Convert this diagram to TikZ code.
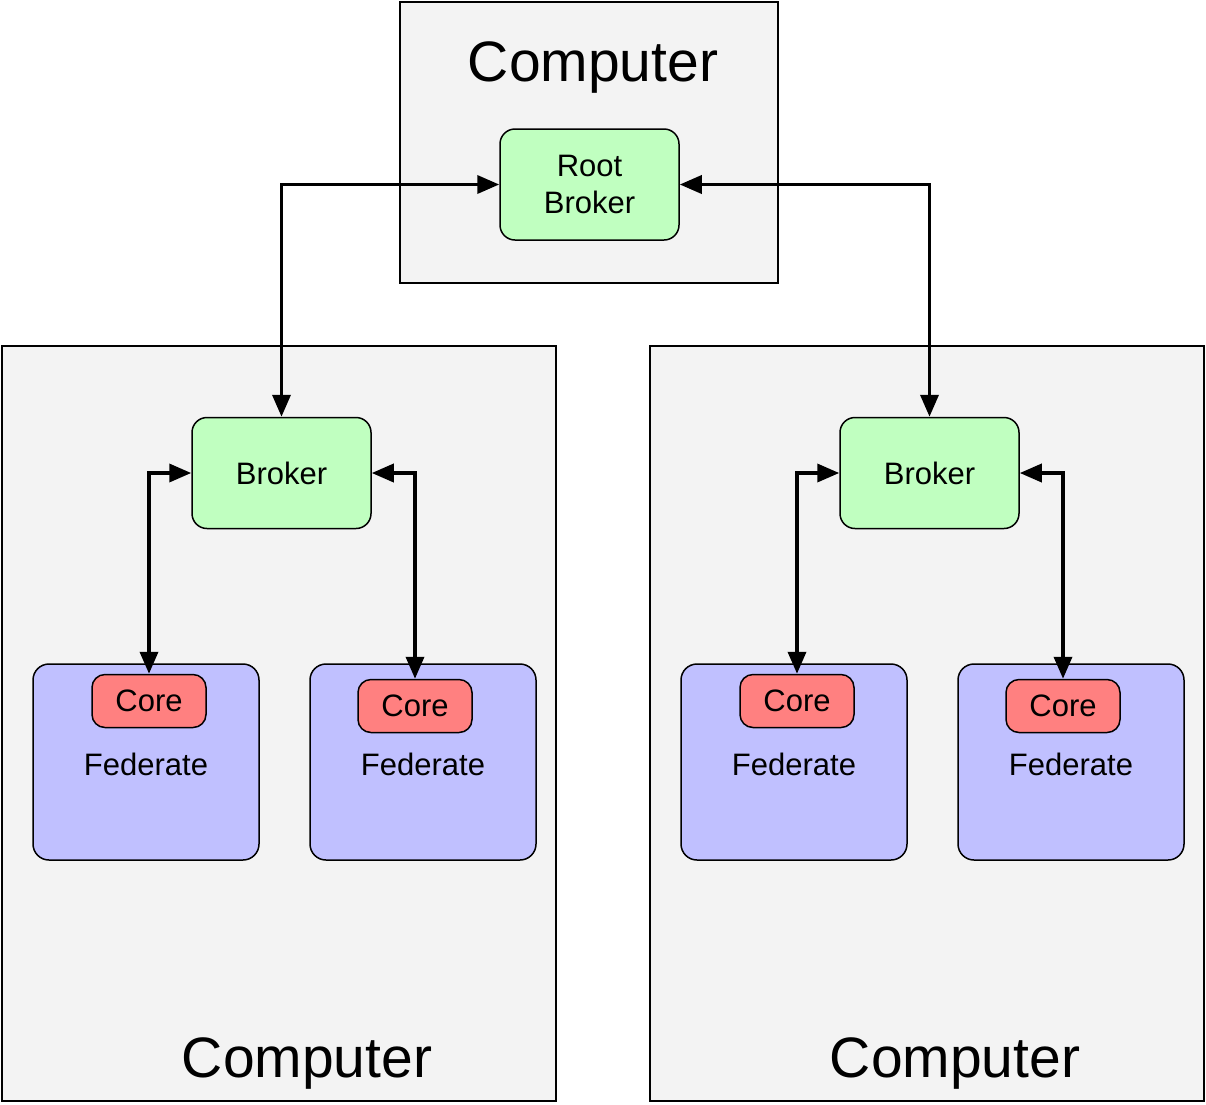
\documentclass[tikz,border=0pt]{standalone}
\usepackage{fontspec}
\setmainfont{Liberation Sans}
\usetikzlibrary{arrows.meta}
\definecolor{compgray}{HTML}{F3F3F3}
\definecolor{brokgreen}{HTML}{C0FFC0}
\definecolor{fedblue}{HTML}{C0C0FF}
\definecolor{corered}{HTML}{FF8080}
\tikzset{
  computer/.style={draw=black, line width=1.5pt, fill=compgray, rectangle, inner sep=0pt},
  brokerbox/.style={draw=black, line width=1.5pt, fill=brokgreen, rounded corners=15pt, minimum width=179pt, minimum height=111pt, inner sep=0pt, font=\fontsize{31}{37}\selectfont, align=center},
  fedbox/.style={draw=black, line width=1.5pt, fill=fedblue, rounded corners=16pt, minimum width=226pt, minimum height=196pt, inner sep=0pt},
  corebox/.style={draw=black, line width=1.5pt, fill=corered, rounded corners=13pt, minimum width=114pt, minimum height=53pt, inner sep=0pt, font=\fontsize{31}{37}\selectfont},
  fedlabel/.style={inner sep=0pt, font=\fontsize{31}{37}\selectfont},
  complabel/.style={inner sep=0pt, font=\fontsize{57}{64}\selectfont},
  conn/.style={line width=3.6pt, {Triangle[length=22pt,width=18pt]}-{Triangle[length=22pt,width=18pt]}}
}
\begin{document}
\begin{tikzpicture}[x=1pt,y=1pt]
\useasboundingbox (0,0) rectangle (1206,-1104);
% computers
\node[computer, minimum width=378pt, minimum height=281pt] (ctop) at (589,-142.5) {};
\node[computer, minimum width=554pt, minimum height=755pt] (cleft) at (279,-723.5) {};
\node[computer, minimum width=554pt, minimum height=755pt] (cright) at (927,-723.5) {};
\node[complabel] (ltop) at (593,-68) {Computer};
\node[complabel] (lleft) at (307,-1063) {Computer};
\node[complabel] (lright) at (955,-1063) {Computer};
% brokers
\node[brokerbox] (rb) at (589.5,-184.5) {Root\\Broker};
\node[brokerbox] (lb) at (281.5,-473) {Broker};
\node[brokerbox] (rbk) at (929.5,-473) {Broker};
% federates
\node[fedbox] (f1) at (146,-762) {};
\node[fedbox] (f2) at (423,-762) {};
\node[fedbox] (f3) at (794,-762) {};
\node[fedbox] (f4) at (1071,-762) {};
\node[fedlabel] (fl1) at (146,-764) {Federate};
\node[fedlabel] (fl2) at (423,-764) {Federate};
\node[fedlabel] (fl3) at (794,-764) {Federate};
\node[fedlabel] (fl4) at (1071,-764) {Federate};
% cores
\node[corebox] (c1) at (149,-701) {Core};
\node[corebox] (c2) at (415,-706) {Core};
\node[corebox] (c3) at (797,-701) {Core};
\node[corebox] (c4) at (1063,-706) {Core};
% connectors
\draw[conn] (lb.north) |- (rb.west);
\draw[conn] (rbk.north) |- (rb.east);
\draw[conn] (c1.north) |- (lb.west);
\draw[conn] (c2.north) |- (lb.east);
\draw[conn] (c3.north) |- (rbk.west);
\draw[conn] (c4.north) |- (rbk.east);
\end{tikzpicture}
\end{document}
